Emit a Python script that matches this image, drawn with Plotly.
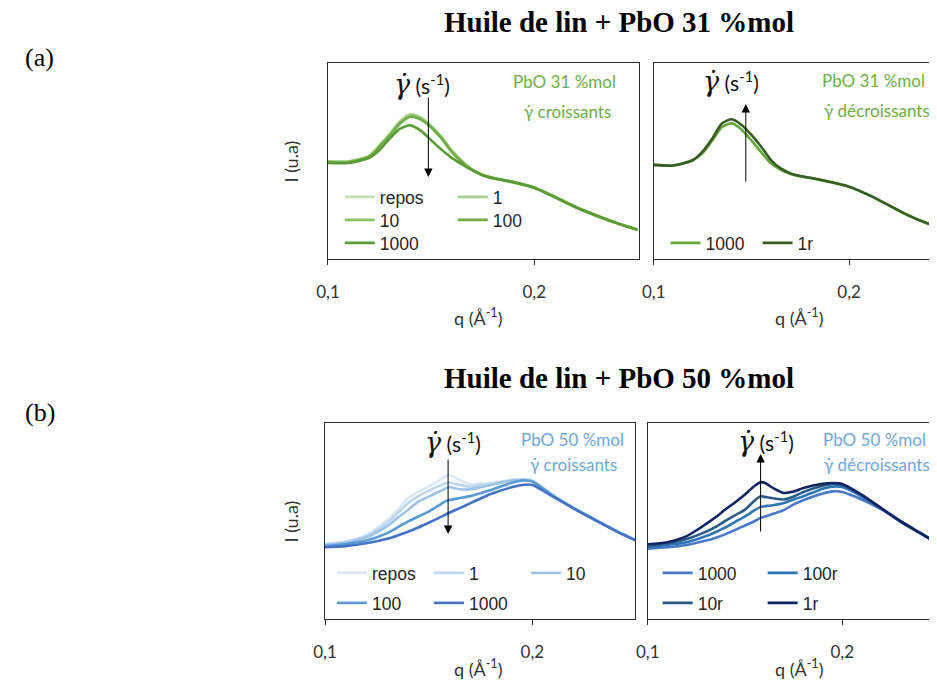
import plotly.graph_objects as go

# The page body adds an 8 px margin; figure coordinates are given in page pixels
OFF = 8
W, H = 937 - OFF, 682 - OFF
def px(x):
    return (x - OFF) / W
def py(y):
    return 1 - (y - OFF) / H

# ---------------- data ----------------
q_top = [0.100, 0.110, 0.120, 0.125, 0.130, 0.135, 0.140, 0.145, 0.150, 0.155, 0.160,
         0.165, 0.170, 0.175, 0.180, 0.190, 0.200, 0.210, 0.220, 0.230, 0.240, 0.250]

i31_repos = [49.9, 49.8, 52.8, 58.2, 64.0, 70.5, 74.0, 72.3, 68.0, 62.4, 55.5,
             50.0, 45.6, 43.0, 41.5, 39.4, 36.6, 31.8, 26.7, 22.4, 18.5, 15.1]
i31_1 = [49.8, 49.7, 52.6, 57.9, 63.7, 70.1, 73.6, 72.0, 67.8, 62.2, 55.2,
         49.8, 45.5, 42.9, 41.4, 39.3, 36.5, 31.7, 26.6, 22.3, 18.4, 15.0]
i31_10 = [49.7, 49.6, 52.4, 57.6, 63.3, 69.6, 73.1, 71.6, 67.5, 61.9, 54.9,
          49.6, 45.4, 42.8, 41.3, 39.2, 36.4, 31.6, 26.5, 22.2, 18.3, 14.9]
i31_100 = [49.5, 49.4, 52.2, 57.3, 62.9, 69.1, 72.6, 71.1, 67.1, 61.5, 54.6,
           49.4, 45.3, 42.7, 41.2, 39.1, 36.3, 31.5, 26.4, 22.1, 18.2, 14.8]
i31_1000 = [49.0, 49.0, 51.6, 55.6, 61.5, 66.5, 68.2, 65.5, 60.6, 55.8, 51.6,
            48.3, 45.3, 42.7, 41.2, 39.2, 36.4, 31.6, 26.5, 22.2, 18.3, 14.9]

i31_dec_1000 = [48.0, 47.7, 50.3, 54.0, 60.5, 67.3, 69.2, 66.0, 60.5, 54.5, 48.8,
                45.5, 43.3, 42.1, 41.4, 39.3, 36.8, 32.6, 27.5, 22.3, 18.1, 14.7]
i31_dec_1r = [48.0, 47.7, 50.5, 54.8, 61.5, 69.2, 71.3, 68.4, 63.3, 57.3, 50.5,
              46.2, 43.7, 42.3, 41.5, 39.4, 36.9, 32.7, 27.6, 22.4, 18.2, 14.8]

q_bot = [0.100, 0.110, 0.120, 0.130, 0.135, 0.140, 0.145, 0.150, 0.155, 0.158, 0.160, 0.165,
         0.170, 0.175, 0.180, 0.190, 0.195, 0.200, 0.210, 0.220, 0.230, 0.240, 0.250]

i50_repos = [38.3, 39.5, 42.9, 50.5, 55.6, 61.6, 65.0, 67.5, 70.6, 72.8, 73.5, 70.9,
             68.7, 69.2, 69.4, 70.9, 71.3, 70.6, 63.2, 56.8, 51.0, 45.4, 40.3]
i50_1 = [38.1, 39.3, 42.4, 49.1, 54.0, 59.0, 62.7, 65.5, 67.9, 69.2, 69.5, 68.4,
         67.5, 68.4, 68.9, 70.9, 71.3, 70.6, 63.1, 56.7, 50.9, 45.3, 40.2]
i50_10 = [37.8, 39.0, 41.7, 47.4, 51.5, 55.6, 59.9, 62.4, 65.0, 66.6, 67.2, 66.2,
          66.2, 67.2, 68.4, 70.6, 70.9, 70.4, 63.0, 56.6, 50.8, 45.2, 40.2]
i50_100 = [37.2, 38.3, 40.0, 43.8, 46.8, 49.7, 52.3, 54.8, 58.0, 60.0, 60.7, 61.7,
           62.7, 64.2, 65.8, 69.5, 70.6, 70.1, 62.8, 56.5, 50.7, 45.1, 40.1]
i50_1000 = [36.6, 37.2, 38.6, 40.9, 42.6, 44.5, 46.7, 49.1, 51.6, 53.2, 54.2, 56.6,
            59.0, 61.5, 63.8, 67.2, 68.4, 68.4, 62.4, 56.3, 50.6, 45.0, 40.0]

i50_dec_1000 = [35.9, 36.6, 37.8, 40.0, 41.5, 43.3, 45.5, 47.7, 50.0, 51.6, 52.2, 53.8,
                55.6, 58.5, 60.6, 64.0, 65.1, 64.8, 61.0, 56.0, 49.6, 43.8, 38.0]
i50_dec_100r = [36.7, 37.8, 39.2, 42.3, 44.4, 46.7, 49.6, 52.4, 55.5, 57.2, 57.5, 58.2,
                59.2, 61.0, 62.6, 66.5, 67.5, 67.3, 62.5, 56.3, 49.8, 43.9, 38.0]
i50_dec_10r = [37.2, 38.5, 40.8, 44.6, 47.0, 50.2, 53.0, 55.8, 60.5, 62.6, 62.3, 61.5,
               61.0, 62.5, 64.8, 68.0, 68.8, 68.4, 63.2, 56.5, 49.9, 43.9, 38.0]
i50_dec_1r = [38.1, 39.2, 42.3, 48.5, 52.0, 56.0, 59.6, 63.5, 68.0, 69.8, 69.5, 66.5,
              64.3, 65.0, 66.8, 69.0, 69.4, 68.9, 63.4, 56.6, 49.8, 43.9, 38.0]

tick_vals = [0.1, 0.2]
tick_text = ["0,1", "0,2"]

# ---------------- figure ----------------
fig = go.Figure()

def add(q, vals, name, color, ax, legend):
    fig.add_trace(go.Scatter(
        x=q, y=vals, name=name, mode="lines",
        line=dict(color=color, width=2.6, shape="spline", smoothing=0.7),
        xaxis="x" + ax, yaxis="y" + ax, legend=legend, hoverinfo="skip"))

# top-left (PbO 31, increasing)
add(q_top, i31_repos, "repos", "#c5dfb3", "", "legend")
add(q_top, i31_1, "1", "#a8d08d", "", "legend")
add(q_top, i31_10, "10", "#8dc26c", "", "legend2")
add(q_top, i31_100, "100", "#70ad47", "", "legend2")
add(q_top, i31_1000, "1000", "#5c9b36", "", "legend3")
# top-right (PbO 31, decreasing)
add(q_top, i31_dec_1000, "1000", "#66a83e", "2", "legend4")
add(q_top, i31_dec_1r, "1r", "#385d24", "2", "legend4")
# bottom-left (PbO 50, increasing)
add(q_bot, i50_repos, "repos", "#dae8f5", "3", "legend5")
add(q_bot, i50_1, "1", "#bcd6ee", "3", "legend5")
add(q_bot, i50_10, "10", "#9dc3e6", "3", "legend5")
add(q_bot, i50_100, "100", "#5b9bd5", "3", "legend6")
add(q_bot, i50_1000, "1000", "#4472c4", "3", "legend6")
# bottom-right (PbO 50, decreasing)
add(q_bot, i50_dec_1000, "1000", "#4a78c8", "4", "legend7")
add(q_bot, i50_dec_100r, "100r", "#2e75b6", "4", "legend7")
add(q_bot, i50_dec_10r, "10r", "#2a5a85", "4", "legend8")
add(q_bot, i50_dec_1r, "1r", "#0f2463", "4", "legend8")

axcol = "#2b2b2b"
tickfont = dict(family="Lato, Open Sans, sans-serif", size=17, color="#333333")

def xax(dom, rng, anchor):
    return dict(domain=dom, range=rng, anchor=anchor, showline=True, linecolor=axcol,
                linewidth=1.3, mirror=True, ticks="outside", ticklen=5, tickcolor=axcol,
                tickwidth=1.3, tickvals=tick_vals, ticktext=tick_text, tickfont=tickfont,
                ticklabelstandoff=12, showgrid=False, zeroline=False, fixedrange=True)

def yax(dom, mirror, anchor):
    return dict(domain=dom, range=[0, 100], showline=True, linecolor=axcol, linewidth=1.3,
                mirror=mirror, showticklabels=False, ticks="", showgrid=False,
                zeroline=False, anchor=anchor, fixedrange=True)

top_dom = [py(259), py(63)]
bot_dom = [py(619), py(423)]

legfont = dict(family="Liberation Sans, Arial, sans-serif", size=17.5, color="#262626")

def leg(line_x, y, spacing):
    return dict(orientation="h", x=px(line_x - 8), y=py(y), xanchor="left", yanchor="middle",
                bgcolor="rgba(0,0,0,0)", borderwidth=0, font=legfont,
                entrywidth=spacing - 45, entrywidthmode="pixels", itemwidth=30,
                traceorder="normal", itemclick=False, itemdoubleclick=False)

green = "#70ad47"
blue = "#6fa6dc"
lab = dict(family="Lato, Open Sans, sans-serif", size=18, color="#333333")
note_font_g = dict(family="Lato, Open Sans, sans-serif", size=17, color=green)
note_font_b = dict(family="Lato, Open Sans, sans-serif", size=17, color=blue)
gam_font = dict(family="Lato, Open Sans, sans-serif", size=21, color="#111111")

ann = []
def text(x, y, s, font, xanchor="center", textangle=0):
    ann.append(dict(x=px(x), y=py(y), xref="paper", yref="paper", text=s, showarrow=False,
                    font=font, xanchor=xanchor, yanchor="middle", textangle=textangle))

def arrow(x, y_tail, y_tip):
    ann.append(dict(x=px(x), y=py(y_tip), xref="paper", yref="paper", text="",
                    showarrow=True, ax=0, ay=y_tail - y_tip, axref="pixel", ayref="pixel",
                    arrowhead=2, arrowsize=1.7, arrowwidth=1, arrowcolor="#000000",
                    standoff=0, startstandoff=0))

title_font = dict(family="Liberation Serif, Times New Roman, serif", size=29, color="#000000")
text(615, 22, "<b>Huile de lin + PbO 31 %mol</b>", title_font)
text(615, 378, "<b>Huile de lin + PbO 50 %mol</b>", title_font)
panel_font = dict(family="Liberation Serif, Times New Roman, serif", size=26, color="#000000")
text(28, 57, "(a)", panel_font)
text(28, 412, "(b)", panel_font)

# axis titles
text(283, 161, "I (u.a)", lab, textangle=-90)
text(283, 521, "I (u.a)", lab, textangle=-90)
text(472, 317, "q (Å<sup>-1</sup>)", lab)
text(797, 317, "q (Å<sup>-1</sup>)", lab)
text(472, 668, "q (Å<sup>-1</sup>)", lab)
text(797, 668, "q (Å<sup>-1</sup>)", lab)

gam = ('<span style="font-family:DejaVu Serif;font-size:27px"><i>γ̇</i></span>'
       ' (s<sup>-1</sup>)')
text(415, 84, gam, gam_font)
text(728, 81, gam, gam_font)
text(447, 442, gam, gam_font)
text(764, 441, gam, gam_font)

arrow(421.7, 96, 177)
arrow(743.3, 183, 104)
arrow(441.7, 458, 534)
arrow(758.3, 533, 454)

text(614, 81, "PbO 31 %mol", note_font_g, xanchor="right")
text(609, 111, "γ̇ croissants", note_font_g, xanchor="right")
text(927, 80, "PbO 31 %mol", note_font_g, xanchor="right")
text(932, 110, "γ̇ décroissants", note_font_g, xanchor="right")
text(622, 439, "PbO 50 %mol", note_font_b, xanchor="right")
text(615, 464, "γ̇ croissants", note_font_b, xanchor="right")
text(928, 439, "PbO 50 %mol", note_font_b, xanchor="right")
text(932, 464, "γ̇ décroissants", note_font_b, xanchor="right")

fig.update_layout(
    width=W, height=H, margin=dict(l=0, r=0, t=0, b=0),
    paper_bgcolor="white", plot_bgcolor="white", showlegend=True,
    xaxis=xax([px(320), px(635)], [0.1, 0.2507], "y"),
    yaxis=yax(top_dom, True, "x"),
    xaxis2=xax([px(650), 1.0], [0.1, 0.24495], "y2"),
    yaxis2=yax(top_dom, False, "x2"),
    xaxis3=xax([px(317), px(631)], [0.1, 0.2495], "y3"),
    yaxis3=yax(bot_dom, True, "x3"),
    xaxis4=xax([px(644), 1.0], [0.1, 0.2487], "y4"),
    yaxis4=yax(bot_dom, False, "x4"),
    legend=leg(340, 197, 113),
    legend2=leg(340, 220, 113),
    legend3=leg(340, 243, 113),
    legend4=leg(670, 243, 92),
    legend5=leg(332, 573, 97),
    legend6=leg(332, 603, 97),
    legend7=leg(662, 573, 105),
    legend8=leg(662, 603, 105),
    annotations=ann,
)

fig.write_html("out.html")
